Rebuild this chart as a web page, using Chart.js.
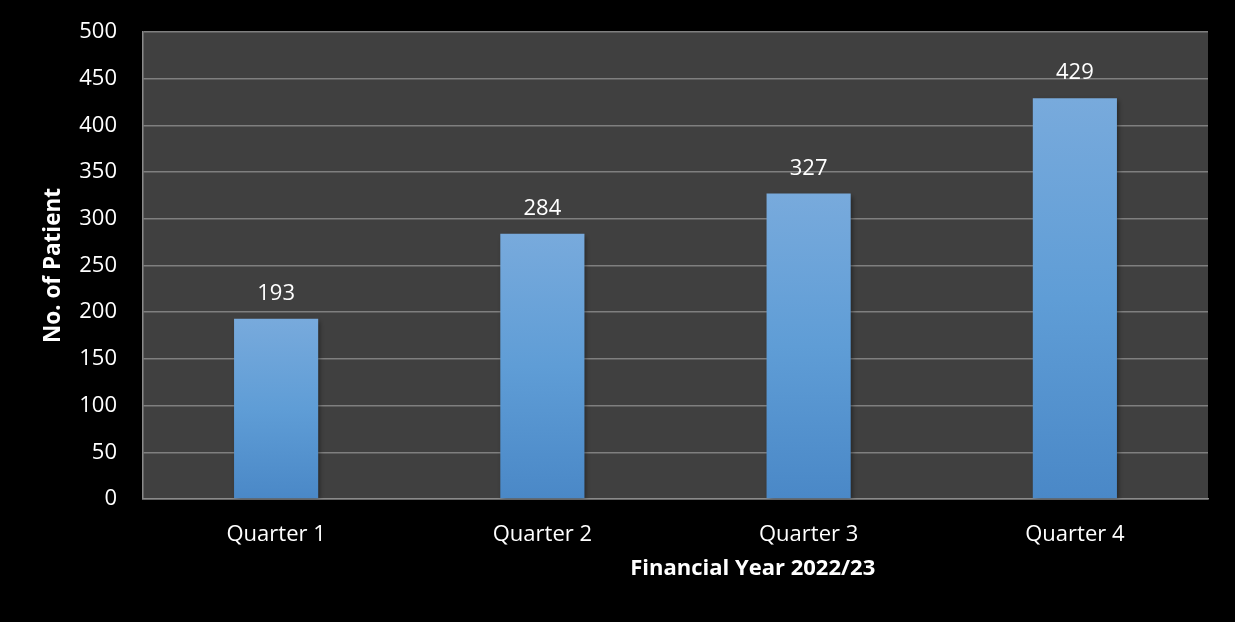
<!DOCTYPE html>
<html>
<head>
<meta charset="utf-8">
<script src="https://cdn.jsdelivr.net/npm/chart.js@4/dist/chart.umd.min.js"></script>
<style>
  html, body { margin: 0; padding: 0; background: #000; }
  #wrap { width: 1235px; height: 622px; }
</style>
</head>
<body>
<div id="wrap"><canvas id="c" width="1235" height="622"></canvas></div>
<script>
// Patients per quarter, financial year 2022/23
const quarters = ['Quarter 1', 'Quarter 2', 'Quarter 3', 'Quarter 4'];
const patients = [193, 284, 327, 429];
const yTicks = [0, 50, 100, 150, 200, 250, 300, 350, 400, 450, 500];
const yTitle = 'No. of Patient';
const xTitle = 'Financial Year 2022/23';

const FONT = '"Open Sans", "Noto Sans", sans-serif';
const TICK_SIZE = 22;

// Dark plot background behind the bars
const plotBackground = {
  id: 'plotBackground',
  beforeDraw(chart) {
    const { ctx, chartArea: a } = chart;
    ctx.save();
    ctx.fillStyle = '#000';
    ctx.fillRect(0, 0, chart.width, chart.height);
    ctx.fillStyle = '#404040';
    ctx.fillRect(a.left, a.top, a.right - a.left, a.bottom - a.top);
    ctx.restore();
  }
};

// Soft drop shadow under the bars
const barShadow = {
  id: 'barShadow',
  beforeDatasetDraw(chart) {
    const ctx = chart.ctx;
    ctx.save();
    ctx.shadowColor = 'rgba(0,0,0,0.45)';
    ctx.shadowBlur = 5;
    ctx.shadowOffsetX = 2;
    ctx.shadowOffsetY = 2;
  },
  afterDatasetDraw(chart) {
    chart.ctx.restore();
  }
};

// Value labels above each bar and the two axis titles
const labels = {
  id: 'labels',
  afterDraw(chart) {
    const { ctx, chartArea: a } = chart;
    const meta = chart.getDatasetMeta(0);
    ctx.save();
    ctx.fillStyle = '#fff';
    ctx.font = TICK_SIZE + 'px ' + FONT;
    ctx.textAlign = 'center';
    ctx.textBaseline = 'alphabetic';
    meta.data.forEach((bar, i) => {
      ctx.fillText(String(patients[i]), bar.x, bar.y - 19);
    });

    ctx.font = 'bold 22px ' + FONT;
    ctx.textBaseline = 'middle';
    ctx.fillText(xTitle, a.left + (a.right - a.left) * 0.5725, 569);

    ctx.translate(54, (a.top + a.bottom) / 2);
    ctx.rotate(-Math.PI / 2);
    ctx.font = 'bold 22.5px ' + FONT;
    ctx.fillText(yTitle, 0, 0);
    ctx.restore();
  }
};

new Chart(document.getElementById('c'), {
  type: 'bar',
  data: {
    labels: quarters,
    datasets: [{
      data: patients,
      backgroundColor(context) {
        const chart = context.chart;
        const y = chart.scales.y;
        if (!chart.chartArea || !y || context.dataIndex === undefined) return '#5B9BD5';
        const top = y.getPixelForValue(patients[context.dataIndex]);
        const base = y.getPixelForValue(0);
        const g = chart.ctx.createLinearGradient(0, top, 0, base);
        g.addColorStop(0, '#78AADC');
        g.addColorStop(0.5, '#5F9DD6');
        g.addColorStop(1, '#4A88C7');
        return g;
      },
      borderWidth: 0,
      categoryPercentage: 1,
      barPercentage: 0.316
    }]
  },
  options: {
    responsive: false,
    animation: false,
    devicePixelRatio: 1,
    layout: { padding: { left: 0, top: 32, right: 27, bottom: 0 } },
    plugins: {
      legend: { display: false },
      tooltip: { enabled: false },
      title: { display: false }
    },
    scales: {
      x: {
        grid: { display: true, color: 'transparent', drawTicks: false, drawOnChartArea: false },
        border: { display: true, color: '#8a8a8a', width: 1.5 },
        ticks: { color: '#fff', font: { family: FONT, size: TICK_SIZE }, padding: 23 },
        afterFit(scale) { scale.height = 123; }
      },
      y: {
        min: 0,
        max: 500,
        afterBuildTicks(scale) { scale.ticks = yTicks.map(v => ({ value: v })); },
        grid: { color: '#7f7f7f', lineWidth: 1.5, drawTicks: false },
        border: { display: true, color: '#8a8a8a', width: 1.5 },
        ticks: { color: '#fff', font: { family: FONT, size: TICK_SIZE }, padding: 26 },
        afterFit(scale) {
          scale.width = 143;
          // the layout padding alone sets the plot's top edge
          scale.paddingTop = 0;
          scale.paddingBottom = 0;
        }
      }
    }
  },
  plugins: [plotBackground, barShadow, labels]
});
</script>
</body>
</html>
